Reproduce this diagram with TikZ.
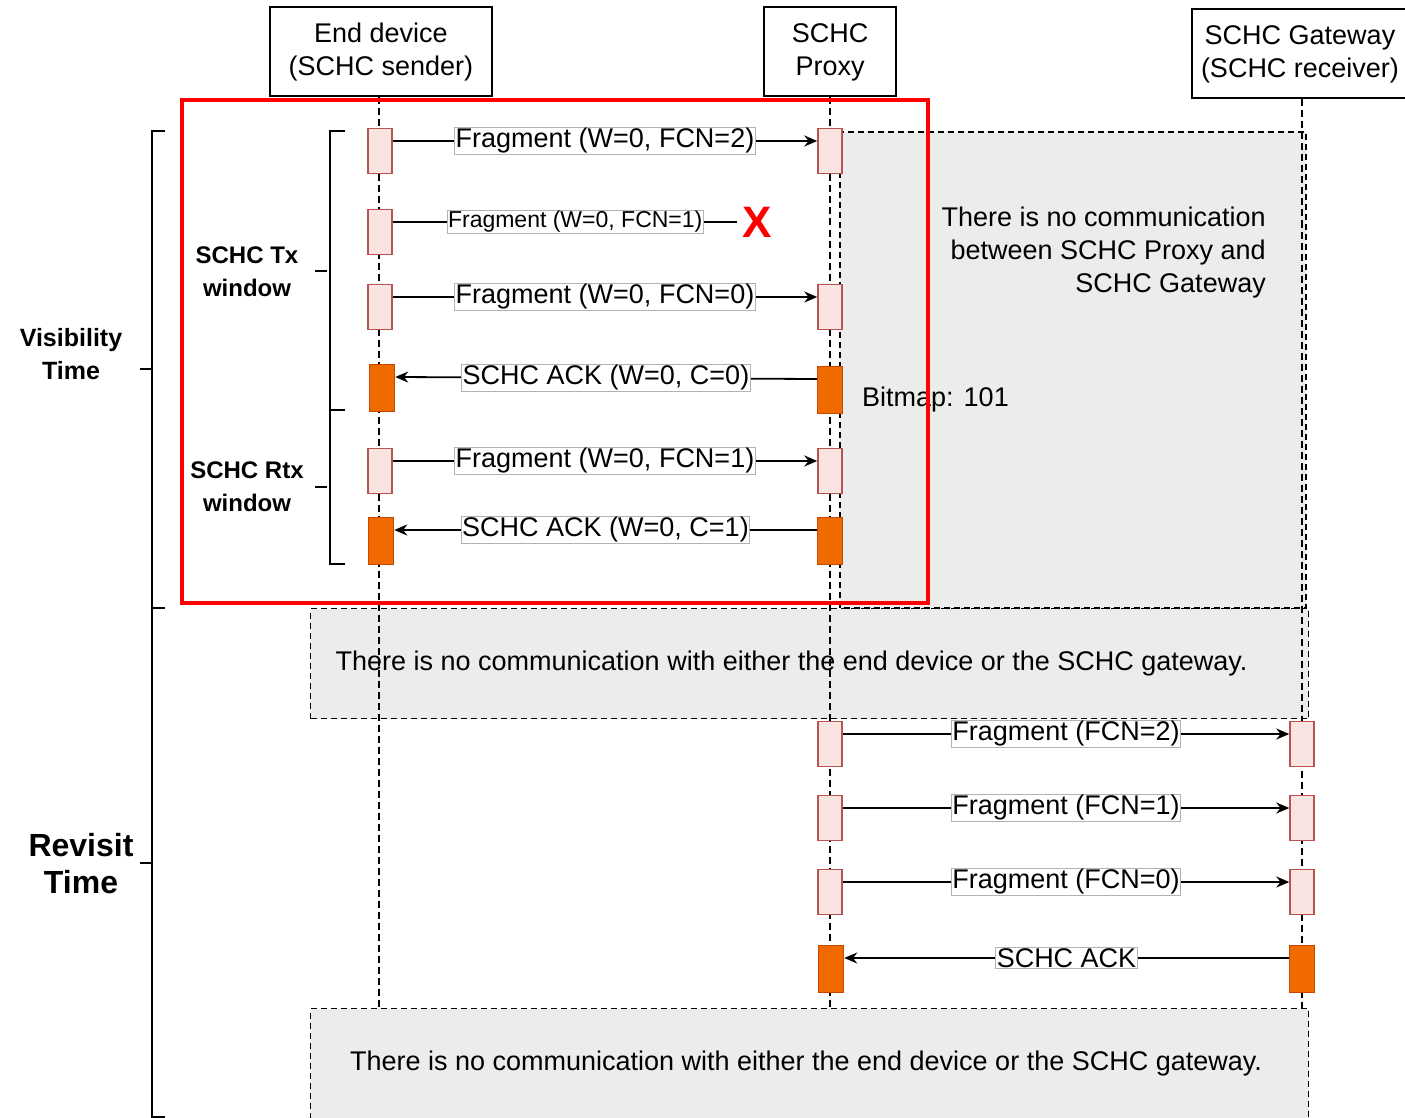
\documentclass[tikz,border=0pt]{standalone}
\usepackage{fontspec}
\setmainfont{Liberation Sans}
\usetikzlibrary{positioning, calc, arrows.meta}

\definecolor{fragred}{RGB}{184,84,80}
\definecolor{fragfill}{RGB}{250,228,226}
\definecolor{ackfill}{RGB}{240,106,0}
\definecolor{ackdraw}{RGB}{196,72,0}
\definecolor{quiet}{RGB}{236,236,236}

\begin{document}
\begin{tikzpicture}[x=1pt, y=-1pt, >=Stealth,
    every node/.style={font=\fontsize{27}{33}\selectfont},
    actor/.style={draw, line width=2pt, align=center, minimum height=89pt, inner sep=0pt},
    life/.style={line width=1.7pt, dash pattern=on 7pt off 4pt},
    frag/.style={draw=fragred, fill=fragfill, line width=1.5pt, minimum width=24pt, minimum height=45pt, inner sep=0pt},
    ack/.style={draw=ackdraw, fill=ackfill, line width=1.5pt, minimum width=25pt, minimum height=47pt, inner sep=0pt},
    msg/.style={line width=1.8pt, -{Stealth[length=13pt,width=11pt]}},
    lbl/.style={draw=gray!60, fill=white, line width=0.8pt, inner sep=1pt},
    quietbox/.style={draw, fill=quiet, line width=1.3pt, dash pattern=on 6pt off 4pt},
    timebar/.style={line width=2.8pt},
    barlbl/.style={font=\fontsize{24}{33}\selectfont\bfseries, align=center}]

    \useasboundingbox (0,0) rectangle (1405,1118);

    % Quiet periods
    \draw[quietbox] (840,132) rectangle (1306,608);
    \node[quietbox, minimum width=998pt, minimum height=110pt, anchor=north west] (gap1) at (310,608) {};
    \node[quietbox, minimum width=998pt, minimum height=130pt, anchor=north west] (gap2) at (310,1008) {};
    \node (gap1txt) at ([xshift=-18pt]gap1.center) {There is no communication with either the end device or the SCHC gateway.};
    \node (gap2txt) at (806,1064) {There is no communication with either the end device or the SCHC gateway.};
    \node[align=right, anchor=east, inner sep=0pt] (silence) at (1266,253) {There is no communication\\between SCHC Proxy and\\SCHC Gateway};

    % Participants
    \node[actor, minimum width=222pt] (dev) at (381,52) {End device\\(SCHC sender)};
    \node[actor, minimum width=132pt] (proxy) at (830,52) {SCHC\\Proxy};
    \node[actor, minimum width=216pt] (gw) at (1300,54) {SCHC Gateway\\(SCHC receiver)};

    % Lifelines
    \coordinate (stop) at (0,1008);
    \draw[life] ([xshift=-2pt]dev.south) -- ([xshift=-2pt]dev.south |- stop);
    \draw[life] (proxy.south) -- (proxy.south |- stop);
    \draw[life] ([xshift=2pt]gw.south) -- ([xshift=2pt]gw.south |- stop);

    % Activations, visibility time
    \foreach \n/\y in {1/151, 2/232, 3/307, 5/471}
        \node[frag] (d\n) at (380,\y) {};
    \foreach \n/\y in {1/151, 3/307, 5/471}
        \node[frag] (p\n) at (830,\y) {};
    \node[ack] (d4) at (382,388) {};
    \node[ack] (d6) at (381,541) {};
    \node[ack] (p4) at (830,390) {};
    \node[ack] (p6) at (830,541) {};

    % Activations, revisit time
    \foreach \n/\y in {1/744, 2/818, 3/892} {
        \node[frag] (q\n) at (830,\y) {};
        \node[frag] (g\n) at (1302,\y) {};
    }
    \node[ack] (q4) at (831,969) {};
    \node[ack] (g4) at (1302,969) {};

    % Messages, visibility time
    \draw[msg] ([yshift=10pt]d1.east) -- node[lbl] {Fragment (W=0, FCN=2)} ([yshift=10pt]p1.west);
    \coordinate (lost) at (737,222);
    \draw[line width=1.8pt] ([yshift=10pt]d2.east) -- node[lbl, pos=0.53, font=\fontsize{23}{28}\selectfont] {Fragment (W=0, FCN=1)} (lost);
    \node[right=5pt of lost, inner sep=0pt, text=red, font=\fontsize{44}{44}\selectfont\bfseries] (cross) {X};
    \draw[msg] ([yshift=10pt]d3.east) -- node[lbl] {Fragment (W=0, FCN=0)} ([yshift=10pt]p3.west);
    \draw[msg] ([yshift=11pt]p4.west) -- node[lbl] {SCHC ACK (W=0, C=0)} ([yshift=11pt]d4.east);
    \node[anchor=west, inner sep=0pt] (bitmap) at (862,400) {Bitmap: 101};
    \draw[msg] ([yshift=10pt]d5.east) -- node[lbl] {Fragment (W=0, FCN=1)} ([yshift=10pt]p5.west);
    \draw[msg] ([yshift=11pt]p6.west) -- node[lbl] {SCHC ACK (W=0, C=1)} ([yshift=11pt]d6.east);

    % Messages, revisit time
    \draw[msg] ([yshift=10pt]q1.east) -- node[lbl] {Fragment (FCN=2)} ([yshift=10pt]g1.west);
    \draw[msg] ([yshift=10pt]q2.east) -- node[lbl] {Fragment (FCN=1)} ([yshift=10pt]g2.west);
    \draw[msg] ([yshift=10pt]q3.east) -- node[lbl] {Fragment (FCN=0)} ([yshift=10pt]g3.west);
    \draw[msg] ([yshift=11pt]g4.west) -- node[lbl] {SCHC ACK} ([yshift=11pt]q4.east);

    % Time brackets
    \draw[timebar] (165,131) -- (152,131) -- (152,608) -- (165,608);
    \draw[timebar] (152,608) -- (152,1117) -- (165,1117);
    \draw[timebar] (345,131) -- (330,131) -- (330,410) -- (345,410);
    \draw[timebar] (330,410) -- (330,564) -- (345,564);
    \foreach \x/\y in {140/369, 140/863, 315/271, 315/487}
        \draw[timebar] (\x,\y) -- ++(12,0);
    \node[barlbl, font=\fontsize{25}{33}\selectfont\bfseries] (vis) at (71,354) {Visibility\\Time};
    \node[barlbl, font=\fontsize{32}{37}\selectfont\bfseries] (rev) at (81,864) {Revisit\\Time};
    \node[barlbl] (tx) at (247,272) {SCHC Tx\\window};
    \node[barlbl] (rtx) at (247,487) {SCHC Rtx\\window};

    % Highlight
    \draw[red, line width=4.5pt] (182,100) rectangle (928,603);

\end{tikzpicture}
\end{document}
